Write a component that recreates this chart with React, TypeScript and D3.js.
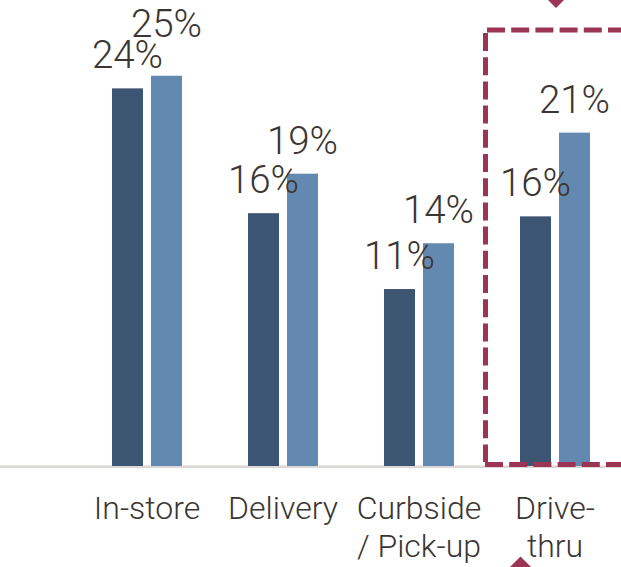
import React from "react";
import * as d3 from "d3";

const categories = ["In-store", "Delivery", "Curbside\n/ Pick-up", "Drive-\nthru"];
const series = ["before", "now"];
const beforeValues = [23.9, 16.0, 11.2, 15.8];
const nowValues = [24.7, 18.5, 14.1, 21.1];
const beforeLabels = ["24%", "16%", "11%", "16%"];
const nowLabels = ["25%", "19%", "14%", "21%"];

const W = 621;
const H = 567;
const BASE = 466;
const COLORS: Record<string, string> = { before: "#3b5572", now: "#6489b0" };
const TEXT = "#3b3632";
const ACCENT = "#9b3553";
const FONT = "Roboto, 'Liberation Sans', Arial, sans-serif";

export default function App() {
  const x = d3.scaleBand<string>().domain(categories).range([79, 79 + 136 * 4]).padding(0);
  const xs = d3.scaleBand<string>().domain(series).range([33, 103]).paddingInner(0.205).paddingOuter(0);
  const y = d3.scaleLinear().domain([0, 30]).range([BASE, BASE - 474]);

  const rows = categories.map((c, i) => ({
    c,
    vals: [
      { s: "before", v: beforeValues[i], label: beforeLabels[i] },
      { s: "now", v: nowValues[i], label: nowLabels[i] },
    ],
  }));

  // label lift above bar top (first "now" label raised in original)
  const lift = (ci: number, s: string) => (ci === 0 && s === "now" ? 39 : 20);

  const diamond = (cx: number, cy: number, r: number) =>
    `M${cx},${cy - r}L${cx + r},${cy}L${cx},${cy + r}L${cx - r},${cy}Z`;

  return (
    <svg
      width={W}
      height={H}
      style={{ position: "absolute", left: 0, top: 0, background: "#fff" }}
      fontFamily={FONT}
    >
      <rect width={W} height={H} fill="#fff" />
      <line x1={0} x2={W} y1={466.7} y2={466.7} stroke="#dcd8d4" strokeWidth={2.5} />
      {rows.map((r, ci) => (
        <g key={r.c} transform={`translate(${x(r.c)},0)`}>
          {r.vals.map((d) => (
            <rect
              key={d.s}
              x={xs(d.s)}
              width={xs.bandwidth()}
              y={y(d.v)}
              height={BASE - y(d.v)}
              fill={COLORS[d.s]}
            />
          ))}
          {r.vals.map((d) => (
            <text
              key={d.s + "t"}
              x={(xs(d.s) as number) + xs.bandwidth() / 2}
              y={y(d.v) - lift(ci, d.s)}
              textAnchor="middle"
              fontSize={38.5}
              fontWeight={300}
              fill={TEXT}
            >
              {d.label}
            </text>
          ))}
          {r.c.split("\n").map((line, li) => (
            <text
              key={"c" + li}
              x={x.bandwidth() / 2}
              y={519 + li * 38}
              textAnchor="middle"
              fontSize={32}
              fontWeight={300}
              fill={TEXT}
            >
              {line}
            </text>
          ))}
        </g>
      ))}
      <g stroke={ACCENT} strokeWidth={5} fill="none" strokeDasharray="18 6.2">
        <line x1={487} x2={660} y1={30} y2={30} />
        <line x1={485.5} x2={485.5} y1={33} y2={462} />
        <line x1={485} x2={660} y1={464.5} y2={464.5} />
      </g>
      <path d={diamond(556, -1, 9)} fill={ACCENT} />
      <path d={diamond(520.5, 569, 12.5)} fill={ACCENT} />
    </svg>
  );
}
